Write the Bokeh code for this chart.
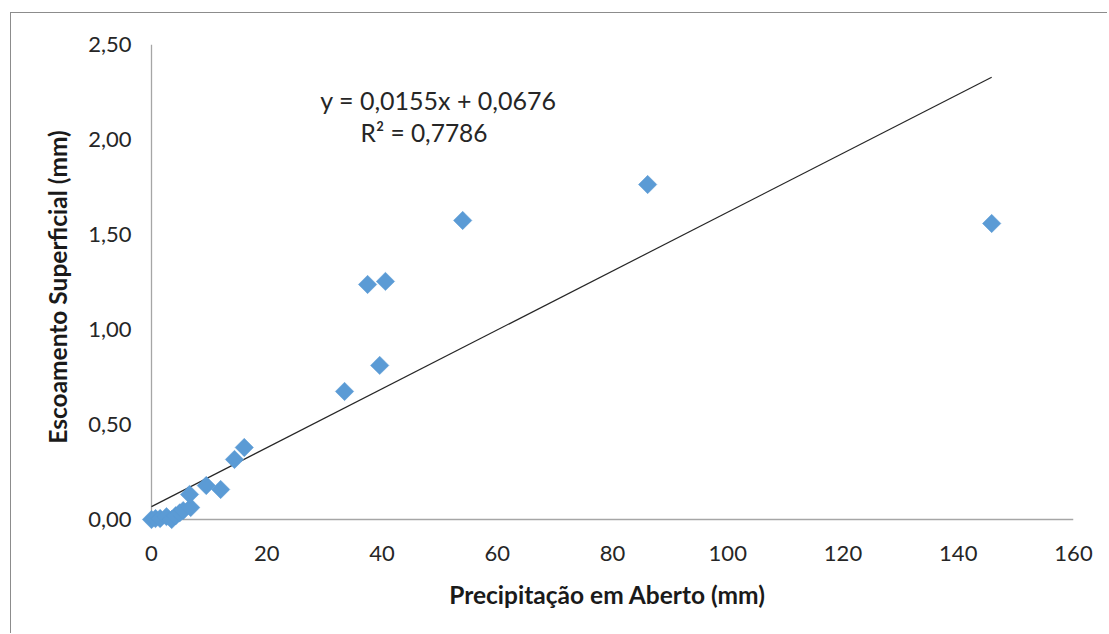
import numpy as np
from bokeh.plotting import figure
from bokeh.layouts import column
from bokeh.models import Range1d, FixedTicker, CustomJSTickFormatter, Label, ColumnDataSource
from bokeh.embed import file_html
from bokeh.resources import INLINE

# Data
precip = [0.0, 0.7, 1.5, 2.6, 3.5, 4.2, 4.9, 5.5, 6.8, 6.6, 9.5, 12.0, 14.4, 16.1,
          33.5, 37.5, 39.6, 40.6, 54.0, 86.1, 145.8]
runoff = [0.0, 0.005, 0.005, 0.015, 0.0, 0.02, 0.035, 0.047, 0.063, 0.132, 0.179, 0.158,
          0.316, 0.379, 0.674, 1.237, 0.811, 1.253, 1.574, 1.763, 1.558]
slope = 0.0155
intercept = 0.0676
eq_text = "y = 0,0155x + 0,0676"
r2_text = "R² = 0,7786"
x_ticks = [0, 20, 40, 60, 80, 100, 120, 140, 160]
y_ticks = [0.0, 0.5, 1.0, 1.5, 2.0, 2.5]

FONT = "Lato"
AXIS_COLOR = "#a6a6a6"

# small padding below/left of the origin so markers at 0 are not clipped
x_pad = 10 / (922 / 160)
y_pad = 10 / (475 / 2.5)

p = figure(width=1096, height=620, output_backend="svg", toolbar_location=None,
           x_range=Range1d(x_ticks[0] - x_pad, x_ticks[-1]),
           y_range=Range1d(y_ticks[0] - y_pad, y_ticks[-1]),
           min_border_left=130, min_border_right=34, min_border_top=31, min_border_bottom=104)
p.outline_line_color = None
p.xgrid.grid_line_color = None
p.ygrid.grid_line_color = None

for ax in (p.xaxis[0], p.yaxis[0]):
    ax.axis_line_color = None
    ax.major_tick_line_color = None
    ax.minor_tick_line_color = None
    ax.major_label_text_font = FONT
    ax.major_label_text_font_size = "22px"
    ax.major_label_text_color = "#262626"
    ax.axis_label_text_font = FONT
    ax.axis_label_text_font_style = "bold"
    ax.axis_label_text_font_size = "24.5px"
    ax.axis_label_text_color = "#1a1a1a"

p.xaxis.ticker = FixedTicker(ticks=x_ticks)
p.yaxis.ticker = FixedTicker(ticks=y_ticks)
p.yaxis.formatter = CustomJSTickFormatter(code="return tick.toFixed(2).replace('.', ',');")
p.xaxis.formatter = CustomJSTickFormatter(code="return tick.toFixed(0);")
p.xaxis.major_label_standoff = 10
p.yaxis.major_label_standoff = 4
p.xaxis.axis_label = "Precipitação em Aberto (mm)"
p.yaxis.axis_label = "Escoamento Superficial (mm)"
p.xaxis.axis_label_standoff = 16
p.yaxis.axis_label_standoff = 13

# axis lines through the origin (drawn from the tick extents)
p.segment(x0=[x_ticks[0], x_ticks[0]], y0=[y_ticks[0], y_ticks[0]],
          x1=[x_ticks[-1], x_ticks[0]], y1=[y_ticks[0], y_ticks[-1]],
          line_color=AXIS_COLOR, line_width=1.3)

# Trend line from the regression coefficients
xmin, xmax = min(precip), max(precip)
p.line([xmin, xmax], [slope * xmin + intercept, slope * xmax + intercept],
       line_color="#262626", line_width=1.2)

src = ColumnDataSource(dict(x=precip, y=runoff))
p.scatter("x", "y", source=src, marker="square", angle=np.pi / 4, size=13,
          fill_color="#5B9BD5", line_color="#5B9BD5", line_width=0.5)

p.add_layout(Label(x=49.8, y=2.21, text=eq_text, text_align="center", text_baseline="middle",
                   text_font=FONT, text_font_size="25px", text_color="#262626"))
p.add_layout(Label(x=47.3, y=2.035, text=r2_text, text_align="center", text_baseline="middle",
                   text_font=FONT, text_font_size="24.5px", text_color="#262626"))

layout = column(p, styles={"border-left": "1px solid #8c8c8c", "border-top": "1px solid #8c8c8c",
                           "margin-left": "10px", "margin-top": "12px"})

open("out.html", "w").write(file_html(layout, INLINE))
